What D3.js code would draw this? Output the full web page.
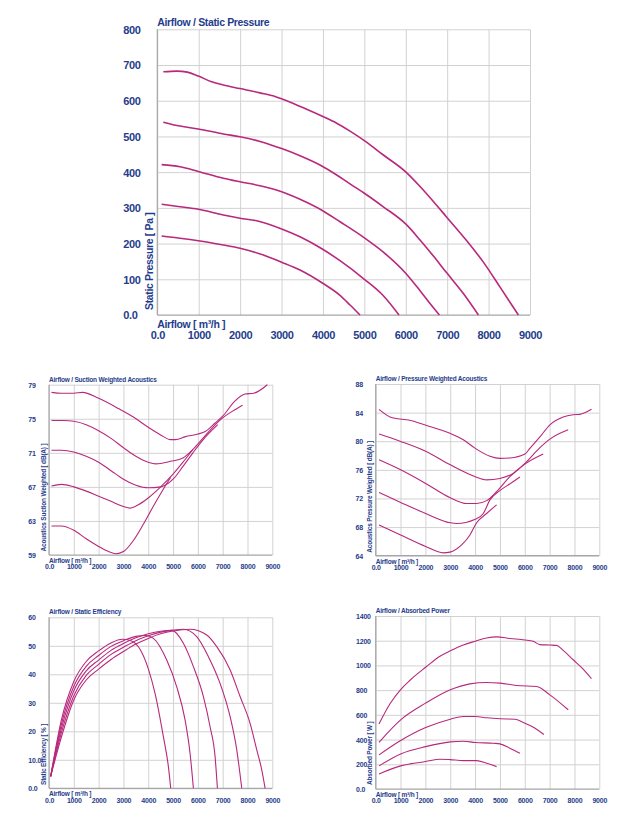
<!DOCTYPE html>
<html><head><meta charset="utf-8">
<script src="https://cdn.jsdelivr.net/npm/d3@7"></script>
<style>
body{margin:0;background:#fff;}
svg text{font-family:"Liberation Sans",Arial,Helvetica,sans-serif;fill:#1f3d8c;font-weight:bold;}
</style></head><body>
<svg id="c" width="635" height="819"></svg>
<script>
// ---------- shared axis ----------
const airflowTicks = [0,1000,2000,3000,4000,5000,6000,7000,8000,9000];
const airflowTickLabels = ["0.0","1000","2000","3000","4000","5000","6000","7000","8000","9000"];

// ---------- Airflow / Static Pressure ----------
const pressureTicks = [0,100,200,300,400,500,600,700,800];
const pressureTickLabels = ["0.0","100","200","300","400","500","600","700","800"];
const staticPressure = [
  [[145,681],[467,683],[725,680],[990,669],[1312,653],[1594,644],[1997,634],[2480,622],[2842,612],[3124,600],[3607,576],[4010,555],[4332,537],[4654,515],[5016,487],[5459,448],[5998,401],[6345,360],[6667,318],[6989,274],[7472,208],[7874,148],[8277,78],[8720,0]],
  [[145,540],[548,529],[990,521],[1594,507],[1997,499],[2480,486],[3003,466],[3446,446],[3929,420],[4332,392],[4654,367],[5000,341],[5459,303],[5998,255],[6345,210],[6667,165],[6989,118],[7391,60],[7754,0]],
  [[105,421],[548,415],[990,402],[1594,383],[1997,373],[2480,362],[3003,345],[3446,324],[3994,292],[4412,261],[5000,216],[5459,176],[5998,117],[6345,68],[6600,30],[6812,0]],
  [[105,310],[548,303],[990,296],[1594,280],[1997,271],[2399,264],[3003,241],[3446,219],[3994,184],[4412,152],[5000,100],[5459,54],[5837,0]],
  [[105,221],[548,215],[990,208],[1594,196],[1997,187],[2560,168],[3003,148],[3446,126],[3994,89],[4412,55],[4654,28],[4895,0]]
];

// ---------- Airflow / Suction Weighted Acoustics ----------
const suctionTicks = [59,63,67,71,75,79];
const suctionTickLabels = ["59","63","67","71","75","79"];
const suctionAcoustics = [
  [[100,78.1],[500,78.0],[1000,78.0],[1350,78.1],[2000,77.4],[2800,76.2],[3400,75.2],[4000,74.0],[4500,73.1],[4900,72.55],[5100,72.55],[5500,72.9],[6000,73.2],[6300,73.5],[6700,74.5],[7000,75.3],[7500,77.1],[7900,77.9],[8250,78.0],[8800,79.0]],
  [[100,74.8],[600,74.8],[1000,74.7],[1500,74.3],[2000,73.6],[2500,72.7],[3000,71.6],[3500,70.6],[4000,69.9],[4300,69.7],[4900,70.0],[5400,70.4],[5800,71.4],[6200,72.7],[6600,74.0],[7000,75.1],[7400,75.9],[7800,76.6]],
  [[100,71.3],[500,71.3],[1000,71.1],[1500,70.6],[2000,69.9],[2500,68.9],[3000,67.9],[3500,67.2],[4000,66.9],[4500,67.0],[5000,67.9],[5400,69.4],[5800,71.0],[6200,72.5],[6800,74.3]],
  [[100,67.1],[500,67.3],[1000,67.0],[1500,66.5],[2000,65.9],[2500,65.3],[3000,64.7],[3250,64.5],[3600,64.9],[4000,65.7],[4500,67.0],[5000,68.5],[5400,69.9],[5800,71.4]],
  [[100,62.4],[500,62.4],[1000,61.9],[1500,60.9],[2000,60.0],[2400,59.4],[2700,59.15],[3000,59.4],[3400,60.7],[3800,62.6],[4200,64.7],[4600,66.7],[4900,68.1]]
];

// ---------- Airflow / Pressure Weighted Acoustics ----------
const pressureAcTicks = [64,68,72,76,80,84,88];
const pressureAcTickLabels = ["64","68","72","76","80","84","88"];
const pressureAcoustics = [
  [[134,84.46],[576,83.4],[978,83.1],[1314,82.97],[2051,82.2],[2989,81.1],[3525,80.2],[4008,79.0],[4598,77.9],[5000,77.6],[5402,77.65],[6005,78.2],[6206,79.0],[6609,80.6],[7011,82.3],[7547,83.4],[7949,83.7],[8217,83.76],[8686,84.46]],
  [[134,81.0],[978,80.0],[2011,78.6],[3003,76.7],[4008,75.05],[4464,74.6],[5000,74.8],[5536,75.5],[6005,76.9],[6609,79.1],[7011,80.3],[7748,81.6]],
  [[134,77.4],[1005,76.0],[2011,74.1],[3003,72.1],[3660,71.3],[4062,71.3],[4464,71.7],[4866,72.95],[5402,75.05],[6005,76.8],[6743,78.2]],
  [[134,72.85],[1005,71.45],[2011,69.9],[3003,68.6],[3257,68.5],[4008,69.1],[4330,69.9],[4598,71.8],[5000,73.1],[5469,74.2],[5804,75.0]],
  [[134,68.3],[1005,66.9],[2011,65.3],[2721,64.4],[2989,64.5],[3458,65.5],[3794,66.9],[4062,68.6],[4464,69.9],[4866,71.1]]
];

// ---------- Airflow / Static Efficiency ----------
const efficiencyTicks = [0,10,20,30,40,50,60];
const efficiencyTickLabels = ["0.0","10.0","20","30","40","50","60"];
const staticEfficiency = [
  [[67,4.2],[500,24],[1000,37.5],[1500,44.5],[2000,48.2],[2500,51.0],[2950,52.3],[3300,51.8],[3669,48.8],[4000,42],[4274,33.3],[4610,18.1],[4812,7.6],[4906,0]],
  [[67,4.2],[500,22.5],[1000,35.8],[1500,42.8],[2000,46.6],[2500,49.8],[3000,51.8],[3500,53.3],[3900,53.6],[4207,52.6],[4745,45.0],[5148,35.6],[5484,24.0],[5685,12.3],[5820,0]],
  [[67,4.2],[500,21],[1000,34.2],[1500,41.2],[2000,45.0],[2500,48.4],[3000,50.8],[3500,52.8],[4000,54.2],[4500,55.1],[4950,55.4],[5416,50.9],[5820,42.7],[6223,32.2],[6492,21.6],[6694,11.1],[6788,0]],
  [[67,4.2],[500,19.5],[1000,32.5],[1500,39.6],[2000,43.5],[2500,47.0],[3000,49.5],[3500,51.8],[4000,53.5],[4500,54.8],[5000,55.5],[5416,55.8],[5954,53.2],[6425,46.2],[6895,36.8],[7298,25.2],[7567,13.5],[7769,0]],
  [[67,4.2],[500,18],[1000,31],[1500,38.0],[2000,41.8],[2500,45.2],[3000,48.0],[3500,50.6],[4000,52.6],[4500,54.2],[5000,55.2],[5685,55.8],[6357,53.8],[6761,49.7],[7298,41.6],[7702,32.2],[8105,22.8],[8374,13.5],[8575,6.5],[8710,0]]
];

// ---------- Airflow / Absorbed Power ----------
const powerTicks = [0,200,400,600,800,1000,1200,1400];
const powerTickLabels = ["0.0","200","400","600","800","1000","1200","1400"];
const absorbedPower = [
  [[134,527],[576,690],[1005,805],[1381,880],[2011,985],[2587,1075],[3003,1118],[3525,1165],[4008,1196],[4464,1222],[4866,1231],[5402,1218],[6005,1206],[6340,1195],[6609,1168],[7011,1165],[7279,1162],[7547,1122],[7949,1046],[8351,970],[8686,892]],
  [[134,378],[1005,560],[2011,695],[3003,803],[3794,851],[4464,862],[5000,857],[5670,838],[6475,830],[7011,762],[7748,641]],
  [[134,276],[1005,392],[2011,497],[3003,565],[3525,587],[4008,587],[4464,576],[5000,568],[5603,565],[5938,538],[6475,484],[6769,441]],
  [[134,187],[1005,284],[2011,343],[3003,381],[3525,387],[4008,376],[4732,370],[5000,365],[5402,330],[5804,289]],
  [[134,122],[1005,187],[1381,203],[2011,222],[2587,241],[2989,238],[3525,230],[4062,230],[4464,208],[4866,181]]
];

const LINE = "#b8287c";
const svg = d3.select("#c");

function drawChart(o) {
  const g = svg.append("g");
  const x = d3.scaleLinear().domain([0, 9000]).range([o.x0, o.x1]);
  const y = d3.scaleLinear().domain([o.yTicks[0], o.yTicks[o.yTicks.length - 1]]).range([o.y1, o.y0]);
  const fs = o.tickFont, ls = o.spacing;

  // x grid + labels
  const xa = g.append("g").attr("transform", `translate(0,${o.y1})`)
    .call(d3.axisBottom(x).tickValues(airflowTicks).tickSize(-(o.y1 - o.y0))
      .tickFormat((d, i) => airflowTickLabels[i]));
  xa.select(".domain").remove();
  xa.selectAll("line").attr("stroke", "#d2d2d2").attr("stroke-width", 1);
  xa.selectAll("text").attr("y", o.xTickDy).attr("dy", null)
    .style("font-size", fs + "px").style("letter-spacing", ls + "px")
    .attr("fill", "#1f3d8c");

  // y grid + labels
  const ya = g.append("g").attr("transform", `translate(${o.x0},0)`)
    .call(d3.axisLeft(y).tickValues(o.yTicks).tickSize(-(o.x1 - o.x0))
      .tickFormat((d, i) => o.yLabels[i]));
  ya.select(".domain").remove();
  ya.selectAll("line").attr("stroke", "#d2d2d2").attr("stroke-width", 1);
  ya.selectAll("text").attr("x", o.yTickX - o.x0).attr("text-anchor", "start")
    .attr("dy", (fs * 0.35) + "px")
    .style("font-size", fs + "px").style("letter-spacing", ls + "px")
    .attr("fill", "#1f3d8c");

  // left / bottom borders
  g.append("line").attr("x1", o.x0).attr("x2", o.x0).attr("y1", o.y0).attr("y2", o.y1)
    .attr("stroke", "#a6a6a6").attr("stroke-width", 1.2);
  g.append("line").attr("x1", o.x0).attr("x2", o.x1).attr("y1", o.y1).attr("y2", o.y1)
    .attr("stroke", "#a6a6a6").attr("stroke-width", 1.2);

  // curves
  const line = d3.line().x(d => x(d[0])).y(d => y(d[1])).curve(d3.curveMonotoneX);
  g.append("g").selectAll("path").data(o.series).join("path")
    .attr("d", line).attr("fill", "none").attr("stroke", LINE)
    .attr("stroke-width", o.lineW).attr("stroke-linejoin", "round");

  // texts
  g.append("text").attr("x", o.x0).attr("y", o.y0 - o.titleDy).text(o.title)
    .style("font-size", o.labelFont + "px").style("letter-spacing", ls + "px");
  g.append("text").attr("x", o.x0).attr("y", o.y1 + o.airDy).text("Airflow [ m³/h ]")
    .style("font-size", o.labelFont + "px").style("letter-spacing", ls + "px");
  g.append("text").attr("transform", `translate(${o.yLabX},${o.yLabY}) rotate(-90)`)
    .text(o.yTitle).style("font-size", o.labelFont + "px").style("letter-spacing", ls + "px");
}

drawChart({x0:157.3, x1:530, y0:29.3, y1:315, yTicks:pressureTicks, yLabels:pressureTickLabels,
  series:staticPressure, title:"Airflow / Static Pressure", yTitle:"Static Pressure [ Pa ]",
  tickFont:11, labelFont:10.5, spacing:-0.35, xTickDy:24.3, yTickX:123.3, titleDy:3.3, airDy:13,
  yLabX:152.5, yLabY:310, lineW:1.6});

drawChart({x0:49, x1:272.3, y0:384.7, y1:555, yTicks:suctionTicks, yLabels:suctionTickLabels,
  series:suctionAcoustics, title:"Airflow / Suction Weighted Acoustics", yTitle:"Acoustics Suction Weighted [ dB(A) ]",
  tickFont:7, labelFont:6.5, spacing:-0.2, xTickDy:14.3, yTickX:28.3, titleDy:3.2, airDy:7.8,
  yLabX:45.5, yLabY:551.5, lineW:1.1});

drawChart({x0:375.7, x1:599.3, y0:384, y1:555.7, yTicks:pressureAcTicks, yLabels:pressureAcTickLabels,
  series:pressureAcoustics, title:"Airflow / Pressure Weighted Acoustics", yTitle:"Acoustics Pressure Weighted [ dB(A) ]",
  tickFont:7, labelFont:6.5, spacing:-0.2, xTickDy:14.3, yTickX:355.5, titleDy:3.2, airDy:7.8,
  yLabX:372, yLabY:552.7, lineW:1.1});

drawChart({x0:49, x1:272.3, y0:617.3, y1:788.3, yTicks:efficiencyTicks, yLabels:efficiencyTickLabels,
  series:staticEfficiency, title:"Airflow / Static Efficiency", yTitle:"Static Efficiency [ % ]",
  tickFont:7, labelFont:6.5, spacing:-0.2, xTickDy:14.3, yTickX:28.3, titleDy:3.2, airDy:7.8,
  yLabX:45.5, yLabY:785, lineW:1.1});

drawChart({x0:375.7, x1:599.3, y0:616, y1:789, yTicks:powerTicks, yLabels:powerTickLabels,
  series:absorbedPower, title:"Airflow / Absorbed Power", yTitle:"Absorbed Power [ W ]",
  tickFont:7, labelFont:6.5, spacing:-0.2, xTickDy:14.3, yTickX:356, titleDy:3.2, airDy:7.8,
  yLabX:372, yLabY:785, lineW:1.1});
</script>
</body></html>
